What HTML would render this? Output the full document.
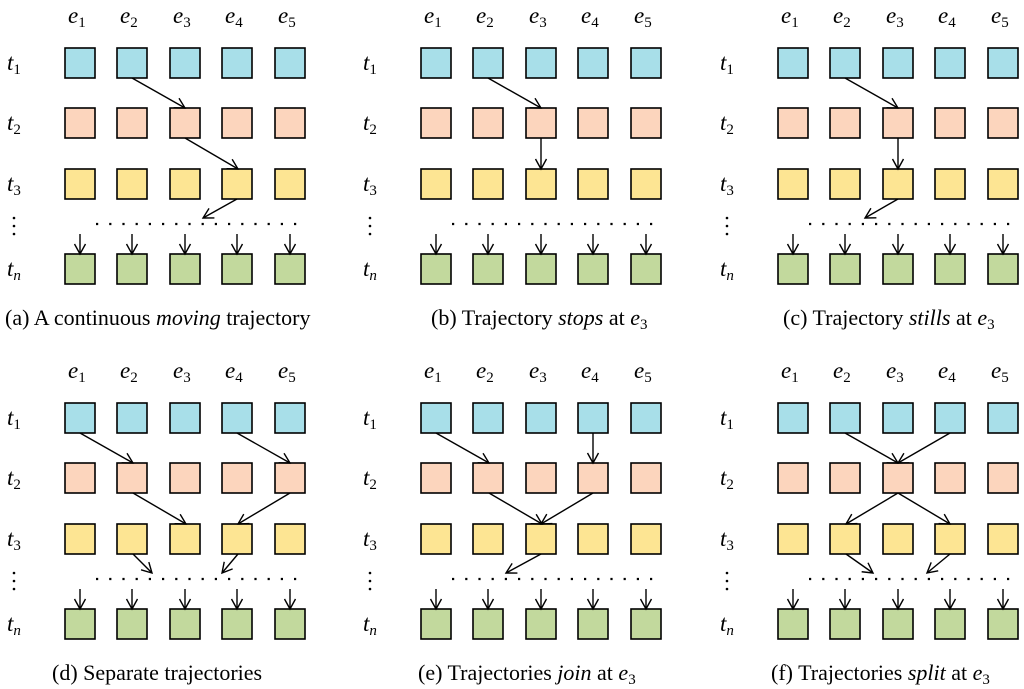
<!DOCTYPE html>
<html><head><meta charset="utf-8"><style>
body{margin:0;background:#fff}
svg{display:block}
text{font-family:"Liberation Serif",serif;fill:#000}
.sq{stroke:#000;stroke-width:1.6}
.a{stroke:#000;stroke-width:1.4;fill:none;marker-end:url(#m)}
.dot{stroke:#000;stroke-width:2.2;stroke-dasharray:2.2 11}
</style></head><body>
<svg width="1024" height="689" viewBox="0 0 1024 689" xmlns="http://www.w3.org/2000/svg">
<defs>
<marker id="m" markerWidth="14" markerHeight="14" refX="11" refY="7" orient="auto" markerUnits="userSpaceOnUse">
<polyline points="1,1.5 11,7 1,12.5" fill="none" stroke="#000" stroke-width="1.4"/>
</marker>
<g id="panel">
<g font-size="23" font-style="italic">
<text x="68" y="23">e<tspan font-size="15" font-style="normal" dy="4">1</tspan></text>
<text x="120" y="23">e<tspan font-size="15" font-style="normal" dy="4">2</tspan></text>
<text x="173" y="23">e<tspan font-size="15" font-style="normal" dy="4">3</tspan></text>
<text x="225" y="23">e<tspan font-size="15" font-style="normal" dy="4">4</tspan></text>
<text x="278" y="23">e<tspan font-size="15" font-style="normal" dy="4">5</tspan></text>
<text x="7" y="70">t<tspan font-size="15" font-style="normal" dy="4">1</tspan></text>
<text x="7" y="130">t<tspan font-size="15" font-style="normal" dy="4">2</tspan></text>
<text x="7" y="191">t<tspan font-size="15" font-style="normal" dy="4">3</tspan></text>
<text x="7" y="276">t<tspan font-size="15" font-style="italic" dy="4">n</tspan></text>
</g>
<g fill="#000"><circle cx="14" cy="218" r="1.3"/><circle cx="14" cy="226" r="1.3"/><circle cx="14" cy="234" r="1.3"/></g>
<g class="sq" fill="#a8dfe9">
<rect x="65" y="48" width="30" height="30"/><rect x="117" y="48" width="30" height="30"/><rect x="170" y="48" width="30" height="30"/><rect x="222" y="48" width="30" height="30"/><rect x="275" y="48" width="30" height="30"/></g>
<g class="sq" fill="#fcd5bd">
<rect x="65" y="108" width="30" height="30"/><rect x="117" y="108" width="30" height="30"/><rect x="170" y="108" width="30" height="30"/><rect x="222" y="108" width="30" height="30"/><rect x="275" y="108" width="30" height="30"/></g>
<g class="sq" fill="#fde593">
<rect x="65" y="169" width="30" height="30"/><rect x="117" y="169" width="30" height="30"/><rect x="170" y="169" width="30" height="30"/><rect x="222" y="169" width="30" height="30"/><rect x="275" y="169" width="30" height="30"/></g>
<g class="sq" fill="#c2d99d">
<rect x="65" y="254" width="30" height="30"/><rect x="117" y="254" width="30" height="30"/><rect x="170" y="254" width="30" height="30"/><rect x="222" y="254" width="30" height="30"/><rect x="275" y="254" width="30" height="30"/></g>
<line class="dot" x1="96" y1="224" x2="300" y2="224"/>
<line class="a" x1="80" y1="234" x2="80" y2="254"/><line class="a" x1="132" y1="234" x2="132" y2="254"/><line class="a" x1="185" y1="234" x2="185" y2="254"/><line class="a" x1="237" y1="234" x2="237" y2="254"/><line class="a" x1="290" y1="234" x2="290" y2="254"/>
</g>
</defs>

<!-- (a) -->
<use href="#panel"/>
<line class="a" x1="132" y1="78" x2="185" y2="108"/>
<line class="a" x1="185" y1="138" x2="238" y2="169"/>
<line class="a" x1="237" y1="199" x2="203" y2="218"/>
<text x="5" y="325" font-size="22">(a) A continuous <tspan font-style="italic">moving</tspan> trajectory</text>

<!-- (b) -->
<g transform="translate(356,0)"><use href="#panel"/>
<line class="a" x1="132" y1="78" x2="185" y2="108"/>
<line class="a" x1="185" y1="138" x2="185" y2="169"/>
<text x="75" y="325" font-size="22">(b) Trajectory <tspan font-style="italic">stops</tspan> at <tspan font-style="italic">e</tspan><tspan font-size="15" dy="4">3</tspan></text>
</g>

<!-- (c) -->
<g transform="translate(713,0)"><use href="#panel"/>
<line class="a" x1="132" y1="78" x2="185" y2="108"/>
<line class="a" x1="185" y1="138" x2="185" y2="169"/>
<line class="a" x1="185" y1="199" x2="152" y2="218"/>
<text x="70" y="325" font-size="22">(c) Trajectory <tspan font-style="italic">stills</tspan> at <tspan font-style="italic">e</tspan><tspan font-size="15" dy="4">3</tspan></text>
</g>

<!-- (d) -->
<g transform="translate(0,355)"><use href="#panel"/>
<line class="a" x1="80" y1="78" x2="133" y2="108"/>
<line class="a" x1="237" y1="78" x2="290" y2="108"/>
<line class="a" x1="133" y1="138" x2="186" y2="169"/>
<line class="a" x1="290" y1="138" x2="238" y2="169"/>
<line class="a" x1="133" y1="199" x2="152" y2="218"/>
<line class="a" x1="238" y1="199" x2="222" y2="218"/>
<text x="52" y="325" font-size="22">(d) Separate trajectories</text>
</g>

<!-- (e) -->
<g transform="translate(356,355)"><use href="#panel"/>
<line class="a" x1="80" y1="78" x2="133" y2="108"/>
<line class="a" x1="237" y1="78" x2="237" y2="108"/>
<line class="a" x1="133" y1="138" x2="186" y2="169"/>
<line class="a" x1="237" y1="138" x2="185" y2="169"/>
<line class="a" x1="185" y1="199" x2="150" y2="218"/>
<text x="62" y="325" font-size="22">(e) Trajectories <tspan font-style="italic">join</tspan> at <tspan font-style="italic">e</tspan><tspan font-size="15" dy="4">3</tspan></text>
</g>

<!-- (f) -->
<g transform="translate(713,355)"><use href="#panel"/>
<line class="a" x1="132" y1="78" x2="185" y2="108"/>
<line class="a" x1="237" y1="78" x2="185" y2="108"/>
<line class="a" x1="185" y1="138" x2="133" y2="169"/>
<line class="a" x1="185" y1="138" x2="237" y2="169"/>
<line class="a" x1="133" y1="199" x2="160" y2="218"/>
<line class="a" x1="237" y1="199" x2="214" y2="218"/>
<text x="58" y="325" font-size="22">(f) Trajectories <tspan font-style="italic">split</tspan> at <tspan font-style="italic">e</tspan><tspan font-size="15" dy="4">3</tspan></text>
</g>
</svg>
</body></html>
